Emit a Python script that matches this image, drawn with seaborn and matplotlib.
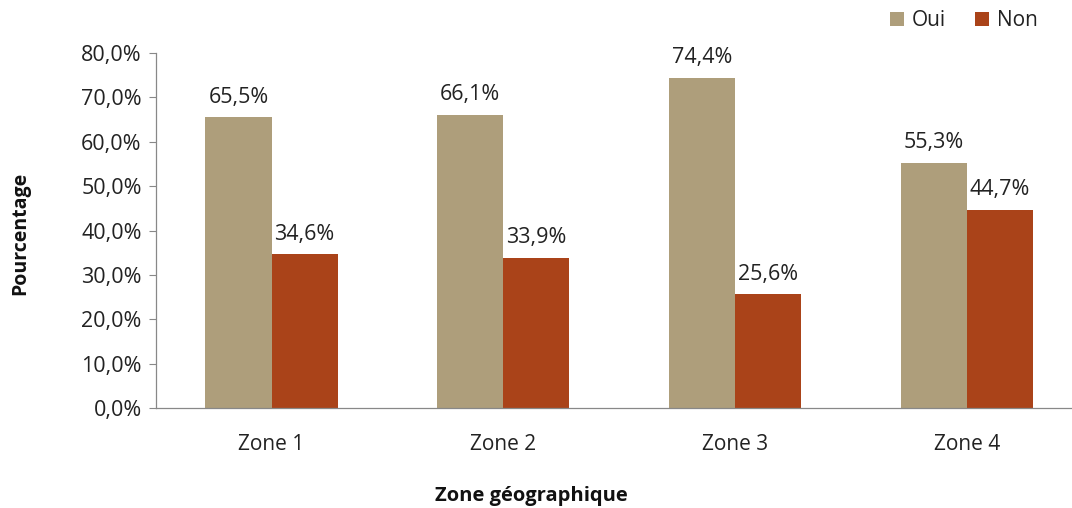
import matplotlib
matplotlib.use("Agg")
import matplotlib.pyplot as plt
import seaborn as sns
import pandas as pd
from matplotlib.patches import Patch

zones = ["Zone 1", "Zone 2", "Zone 3", "Zone 4"]
oui = [65.5, 66.1, 74.4, 55.3]
non = [34.6, 33.9, 25.6, 44.7]
series = ["Oui", "Non"]
colors = ["#AE9E7B", "#AA4319"]
yticks = [0, 10, 20, 30, 40, 50, 60, 70, 80]

df = pd.DataFrame({
    "zone": zones * 2,
    "reponse": ["Oui"] * len(zones) + ["Non"] * len(zones),
    "pct": oui + non,
})

sns.set_theme(style="white")
plt.rcParams["font.family"] = ["Open Sans", "DejaVu Sans"]

fig = plt.figure(figsize=(10.72, 5.08), dpi=100)
ax = fig.add_axes([155.6 / 1072, 100 / 508, (1083 - 155.6) / 1072, 355 / 508])

sns.barplot(data=df, x="zone", y="pct", hue="reponse", hue_order=series,
            palette=colors, width=0.57, saturation=1, linewidth=0,
            ax=ax, legend=False)


def fr_pct(v):
    return f"{v:.1f}".replace(".", ",") + "%"


for cont in ax.containers:
    ax.bar_label(cont, labels=[fr_pct(v) for v in cont.datavalues],
                 padding=7, fontsize=15.5, color="#222222")

ax.set_xlim(-0.5, 3.5)
ax.set_ylim(0, 80)
ax.set_yticks(yticks)
ax.set_yticklabels([fr_pct(t) for t in yticks])
ax.tick_params(axis="y", left=True, length=5, width=0.8, color="#888888",
               labelsize=15.5, labelcolor="#222222", pad=5)
ax.tick_params(axis="x", bottom=False, labelsize=15, labelcolor="#222222", pad=13)

for side in ["top", "right"]:
    ax.spines[side].set_visible(False)
for side in ["left", "bottom"]:
    ax.spines[side].set_color("#888888")
    ax.spines[side].set_linewidth(0.9)

ax.set_xlabel("")
ax.set_ylabel("")
fig.text(20 / 1072, 1 - 233 / 508, "Pourcentage", rotation=90, ha="center",
         va="center", fontsize=14, fontweight="bold", color="#111111")
fig.text(531 / 1072, 1 - 496 / 508, "Zone géographique", ha="center",
         va="center", fontsize=14.5, fontweight="bold", color="#111111")

# legend at the top right
handles = [Patch(facecolor=c, edgecolor="none", label=s) for s, c in zip(series, colors)]
fig.legend(handles=handles, loc="center", bbox_to_anchor=(964 / 1072, 1 - 21 / 508),
           ncol=2, frameon=False, fontsize=15, handlelength=0.65, handleheight=0.65,
           handletextpad=0.4, columnspacing=1.4, labelcolor="#222222")

fig.savefig("out.png", dpi=100)
